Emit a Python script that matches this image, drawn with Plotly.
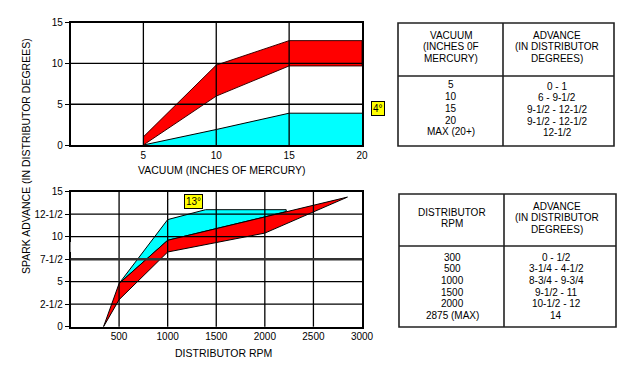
import plotly.graph_objects as go

# ---------------- data ----------------
vac_x = [5, 10, 15, 20]
vac_red_low = [0, 6, 9.7, 9.7]
vac_red_high = [1, 9.8, 12.8, 12.8]
vac_cyan = [0, 1.9, 3.9, 3.9]
vac_xticks = [5, 10, 15, 20]
vac_yticks = [0, 5, 10, 15]

rpm_red_x = [340, 500, 1000, 2000, 2850]
rpm_red_low = [0, 3.0, 8.3, 10.4, 14.4]
rpm_red_high = [0, 4.8, 9.6, 12.2, 14.4]
rpm_cyan_top_x = [500, 1000, 1390, 2220]
rpm_cyan_top = [4.8, 11.9, 13.0, 13.0]
rpm_cyan_base_x = [500, 1000, 2000, 2220]
rpm_cyan_base = [4.8, 9.6, 12.2, 12.8]
rpm_xticks = [500, 1000, 1500, 2000, 2500, 3000]
rpm_yticks = [0, 2.5, 5, 7.5, 10, 12.5, 15]
rpm_yticktext = ["0", "2-1/2", "5", "7-1/2", "10", "12-1/2", "15"]

vac_table_head = [["VACUUM", "(INCHES 0F", "MERCURY)"],
                  ["ADVANCE", "(IN DISTRIBUTOR", "DEGREES)"]]
vac_table_vacuum = ["5", "10", "15", "20", "MAX (20+)"]
vac_table_advance = ["0 - 1", "6 - 9-1/2", "9-1/2 - 12-1/2", "9-1/2 - 12-1/2", "12-1/2"]

rpm_table_head = [["DISTRIBUTOR", "RPM"],
                  ["ADVANCE", "(IN DISTRIBUTOR", "DEGREES)"]]
rpm_table_rpm = ["300", "500", "1000", "1500", "2000", "2875 (MAX)"]
rpm_table_advance = ["0 - 1/2", "3-1/4 - 4-1/2", "8-3/4 - 9-3/4", "9-1/2 - 11", "10-1/2 - 12", "14"]

# ---------------- helpers ----------------
W, H = 640, 377
FONT = "Liberation Sans, Arial, sans-serif"
RED = "#FF0000"
CYAN = "#00FFFF"


def px(x):
    return x / W


def py(y):
    return 1 - y / H


fig = go.Figure()

# top chart (vacuum)
fig.add_trace(go.Scatter(x=vac_x, y=vac_cyan, mode="lines", fill="tozeroy",
                         fillcolor=CYAN, line=dict(color="black", width=1),
                         xaxis="x", yaxis="y", hoverinfo="skip"))
fig.add_trace(go.Scatter(x=vac_x + vac_x[::-1], y=vac_red_high + vac_red_low[::-1],
                         mode="lines", fill="toself", fillcolor=RED,
                         line=dict(color="#3a0000", width=1),
                         xaxis="x", yaxis="y", hoverinfo="skip"))

# bottom chart (rpm)
fig.add_trace(go.Scatter(x=rpm_cyan_top_x + rpm_cyan_base_x[::-1],
                         y=rpm_cyan_top + rpm_cyan_base[::-1],
                         mode="lines", fill="toself", fillcolor=CYAN,
                         line=dict(color="black", width=1),
                         xaxis="x2", yaxis="y2", hoverinfo="skip"))
fig.add_trace(go.Scatter(x=rpm_red_x + rpm_red_x[::-1],
                         y=rpm_red_high + rpm_red_low[::-1],
                         mode="lines", fill="toself", fillcolor=RED,
                         line=dict(color="black", width=1),
                         xaxis="x2", yaxis="y2", hoverinfo="skip"))

shapes = []
# grid lines drawn above the fills
for v in vac_xticks[:-1]:
    shapes.append(dict(type="line", xref="x", yref="y domain", x0=v, x1=v, y0=0, y1=1,
                       line=dict(color="black", width=1.3), layer="above"))
for v in vac_yticks[1:-1]:
    shapes.append(dict(type="line", xref="x domain", yref="y", x0=0, x1=1, y0=v, y1=v,
                       line=dict(color="black", width=1.3), layer="above"))
for v in rpm_xticks[:-1]:
    shapes.append(dict(type="line", xref="x2", yref="y2 domain", x0=v, x1=v, y0=0, y1=1,
                       line=dict(color="black", width=1.3), layer="above"))
for v in rpm_yticks[1:-1]:
    heavy = (v == 7.5)
    shapes.append(dict(type="line", xref="x2 domain", yref="y2", x0=0, x1=1, y0=v, y1=v,
                       line=dict(color="#333333" if heavy else "black", width=2.6 if heavy else 1.3),
                       layer="above"))
# small break in the lower left axis line
shapes.append(dict(type="line", xref="x2", yref="y2", x0=0, x1=0, y0=8.3, y1=9.4,
                   line=dict(color="white", width=4), layer="above"))


def table(x0, y0, x1, y1, ydiv, xdiv):
    lw = dict(color="#222222", width=1.6)
    return [
        dict(type="rect", xref="paper", yref="paper", x0=px(x0), x1=px(x1), y0=py(y0), y1=py(y1), line=lw),
        dict(type="line", xref="paper", yref="paper", x0=px(x0), x1=px(x1), y0=py(ydiv), y1=py(ydiv), line=lw),
        dict(type="line", xref="paper", yref="paper", x0=px(xdiv), x1=px(xdiv), y0=py(y0), y1=py(y1), line=lw),
    ]


shapes += table(398, 23, 614, 146, 76, 503)
shapes += table(399, 194, 616, 327, 246, 504)

annotations = []


def text(t, x, y, size=10, **kw):
    annotations.append(dict(text=t, x=px(x), y=py(y), xref="paper", yref="paper",
                            showarrow=False, xanchor="center", yanchor="middle",
                            font=dict(family=FONT, size=size, color="black"), **kw))


# table 1 texts
for i, line in enumerate(vac_table_head[0]):
    text(line, 451, 35 + i * 11.7)
for i, line in enumerate(vac_table_head[1]):
    text(line, 557, 35 + i * 11.7)
for i, line in enumerate(vac_table_vacuum):
    text(line, 451, 85 + i * 11.7)
for i, line in enumerate(vac_table_advance):
    text(line, 557, 86 + i * 11.7)

# table 2 texts
for i, line in enumerate(rpm_table_head[0]):
    text(line, 452, 212 + i * 11)
for i, line in enumerate(rpm_table_head[1]):
    text(line, 557, 206 + i * 11.7)
for i, line in enumerate(rpm_table_rpm):
    text(line, 452, 257 + i * 11.7)
for i, line in enumerate(rpm_table_advance):
    text(line, 556, 257 + i * 11.7)

# axis titles
text("VACUUM (INCHES OF MERCURY)", 222, 170, size=10.5)
text("DISTRIBUTOR RPM", 223, 352.5, size=10.5)
text("SPARK ADVANCE (IN DISTRIBUTOR DEGREES)", 26, 156, size=10.5, textangle=-90)

# yellow callouts
text("4°", 378, 108, size=10, bgcolor="#FFFF00", bordercolor="black", borderwidth=1, borderpad=1)
text("13°", 193, 201, size=10, bgcolor="#FFFF00", bordercolor="black", borderwidth=1, borderpad=1)

axis_common = dict(showgrid=False, zeroline=False, showline=True, mirror=True,
                   linecolor="black", linewidth=1.5, layer="above traces", automargin=False,
                   tickfont=dict(family=FONT, size=10, color="black"), fixedrange=True)

fig.update_layout(
    template="none",
    width=W, height=H, autosize=False,
    margin=dict(l=0, r=0, t=0, b=0, pad=0),
    paper_bgcolor="white", plot_bgcolor="white",
    showlegend=False,
    font=dict(family=FONT, color="black"),
    xaxis=dict(domain=[px(70.5), px(362)], range=[0, 20], tickvals=vac_xticks,
               ticks="", anchor="y", **axis_common),
    yaxis=dict(domain=[py(145), py(22.7)], range=[0, 15], tickvals=vac_yticks,
               ticks="outside", ticklen=4, tickcolor="black", anchor="x", **axis_common),
    xaxis2=dict(domain=[px(70.5), px(362)], range=[0, 3000], tickvals=rpm_xticks,
                ticks="", anchor="y2", **axis_common),
    yaxis2=dict(domain=[py(326.7), py(191.7)], range=[0, 15], tickvals=rpm_yticks,
                ticktext=rpm_yticktext, ticks="outside", ticklen=4, tickcolor="black",
                anchor="x2", **axis_common),
    shapes=shapes,
    annotations=annotations,
)

fig.write_html("out.html", config={"displayModeBar": False},
               post_script="document.body.style.margin='0';document.body.style.overflow='hidden';")
